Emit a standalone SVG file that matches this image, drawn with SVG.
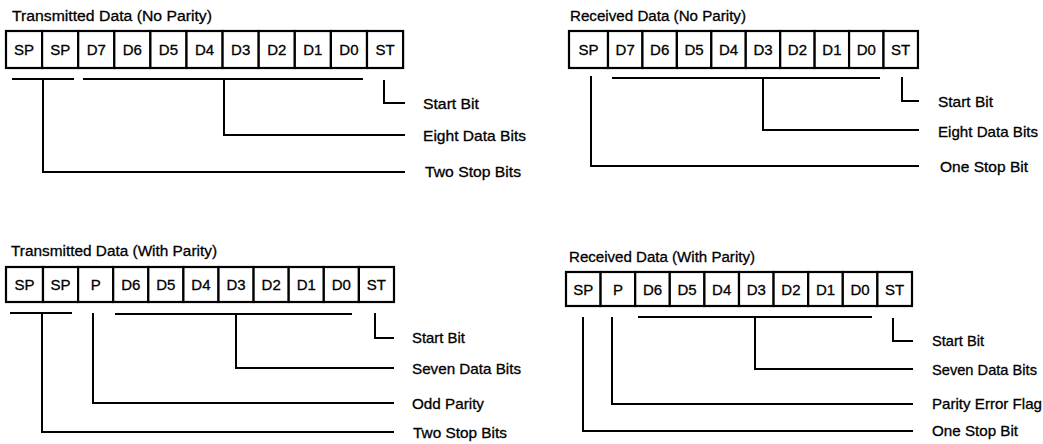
<svg xmlns="http://www.w3.org/2000/svg" width="1043" height="444" viewBox="0 0 1043 444">
<style>
text{font-family:"Liberation Sans",Arial,sans-serif;fill:#000;stroke:#000;stroke-width:0.3}
.t{font-size:15.5px}
.c{font-size:15px;text-anchor:middle}
.l{font-size:15px}
rect{fill:#fff;stroke:#000;stroke-width:2.2}
.w{fill:none;stroke:#000;stroke-width:2}
</style>
<rect x="0" y="0" width="1043" height="444" style="stroke:none"/>

<!-- Top-left: Transmitted Data (No Parity) -->
<g id="tx-noparity">
<text class="t" x="12" y="21" textLength="200" lengthAdjust="spacingAndGlyphs">Transmitted Data (No Parity)</text>
<rect x="6" y="31" width="36.1" height="37"/><text class="c" x="24.05" y="55">SP</text>
<rect x="42.1" y="31" width="36.1" height="37"/><text class="c" x="60.15" y="55">SP</text>
<rect x="78.2" y="31" width="36.1" height="37"/><text class="c" x="96.25" y="55">D7</text>
<rect x="114.3" y="31" width="36.1" height="37"/><text class="c" x="132.35" y="55">D6</text>
<rect x="150.4" y="31" width="36.1" height="37"/><text class="c" x="168.45" y="55">D5</text>
<rect x="186.5" y="31" width="36.1" height="37"/><text class="c" x="204.55" y="55">D4</text>
<rect x="222.6" y="31" width="36.1" height="37"/><text class="c" x="240.65" y="55">D3</text>
<rect x="258.7" y="31" width="36.1" height="37"/><text class="c" x="276.75" y="55">D2</text>
<rect x="294.8" y="31" width="36.1" height="37"/><text class="c" x="312.85" y="55">D1</text>
<rect x="330.9" y="31" width="36.1" height="37"/><text class="c" x="348.95" y="55">D0</text>
<rect x="367" y="31" width="36.1" height="37"/><text class="c" x="385.05" y="55">ST</text>
</g>
<g id="tx-noparity-labels">
<text class="l" x="423" y="109" textLength="56" lengthAdjust="spacingAndGlyphs">Start Bit</text>
<text class="l" x="423" y="141" textLength="103" lengthAdjust="spacingAndGlyphs">Eight Data Bits</text>
<text class="l" x="425" y="177" textLength="96" lengthAdjust="spacingAndGlyphs">Two Stop Bits</text>
</g>

<!-- Top-right: Received Data (No Parity) -->
<g id="rx-noparity">
<text class="t" x="570" y="21" textLength="176" lengthAdjust="spacingAndGlyphs">Received Data (No Parity)</text>
<rect x="569" y="31" width="39" height="37"/><text class="c" x="588.5" y="55">SP</text>
<rect x="608" y="31" width="34.44" height="37"/><text class="c" x="625.2" y="55">D7</text>
<rect x="642.44" y="31" width="34.44" height="37"/><text class="c" x="659.7" y="55">D6</text>
<rect x="676.88" y="31" width="34.44" height="37"/><text class="c" x="694.1" y="55">D5</text>
<rect x="711.32" y="31" width="34.44" height="37"/><text class="c" x="728.5" y="55">D4</text>
<rect x="745.76" y="31" width="34.44" height="37"/><text class="c" x="763" y="55">D3</text>
<rect x="780.2" y="31" width="34.44" height="37"/><text class="c" x="797.4" y="55">D2</text>
<rect x="814.64" y="31" width="34.44" height="37"/><text class="c" x="831.9" y="55">D1</text>
<rect x="849.08" y="31" width="34.44" height="37"/><text class="c" x="866.3" y="55">D0</text>
<rect x="883.52" y="31" width="34.44" height="37"/><text class="c" x="900.7" y="55">ST</text>
</g>
<g id="rx-noparity-labels">
<text class="l" x="938" y="107" textLength="55" lengthAdjust="spacingAndGlyphs">Start Bit</text>
<text class="l" x="938" y="137" textLength="100" lengthAdjust="spacingAndGlyphs">Eight Data Bits</text>
<text class="l" x="940" y="172" textLength="88" lengthAdjust="spacingAndGlyphs">One Stop Bit</text>
</g>

<!-- Bottom-left: Transmitted Data (With Parity) -->
<g id="tx-parity">
<text class="t" x="11" y="256" textLength="206" lengthAdjust="spacingAndGlyphs">Transmitted Data (With Parity)</text>
<rect x="6" y="267" width="37" height="35"/><text class="c" x="24.5" y="290">SP</text>
<rect x="43" y="267" width="35.1" height="35"/><text class="c" x="60.55" y="290">SP</text>
<rect x="78.1" y="267" width="35.1" height="35"/><text class="c" x="95.65" y="290">P</text>
<rect x="113.2" y="267" width="35.1" height="35"/><text class="c" x="130.75" y="290">D6</text>
<rect x="148.3" y="267" width="35.1" height="35"/><text class="c" x="165.85" y="290">D5</text>
<rect x="183.4" y="267" width="35.1" height="35"/><text class="c" x="200.95" y="290">D4</text>
<rect x="218.5" y="267" width="35.1" height="35"/><text class="c" x="236.05" y="290">D3</text>
<rect x="253.6" y="267" width="35.1" height="35"/><text class="c" x="271.15" y="290">D2</text>
<rect x="288.7" y="267" width="35.1" height="35"/><text class="c" x="306.25" y="290">D1</text>
<rect x="323.8" y="267" width="35.1" height="35"/><text class="c" x="341.35" y="290">D0</text>
<rect x="358.9" y="267" width="35.1" height="35"/><text class="c" x="376.45" y="290">ST</text>
</g>
<g id="tx-parity-labels">
<text class="l" x="412" y="343" textLength="53" lengthAdjust="spacingAndGlyphs">Start Bit</text>
<text class="l" x="412" y="374" textLength="109" lengthAdjust="spacingAndGlyphs">Seven Data Bits</text>
<text class="l" x="412" y="409" textLength="72" lengthAdjust="spacingAndGlyphs">Odd Parity</text>
<text class="l" x="413" y="438" textLength="94" lengthAdjust="spacingAndGlyphs">Two Stop Bits</text>
</g>

<!-- Bottom-right: Received Data (With Parity) -->
<g id="rx-parity">
<text class="t" x="569" y="262" textLength="186" lengthAdjust="spacingAndGlyphs">Received Data (With Parity)</text>
<rect x="566" y="272" width="34.6" height="34"/><text class="c" x="583.3" y="294.5">SP</text>
<rect x="600.6" y="272" width="34.6" height="34"/><text class="c" x="617.9" y="294.5">P</text>
<rect x="635.2" y="272" width="34.6" height="34"/><text class="c" x="652.5" y="294.5">D6</text>
<rect x="669.8" y="272" width="34.6" height="34"/><text class="c" x="687.1" y="294.5">D5</text>
<rect x="704.4" y="272" width="34.6" height="34"/><text class="c" x="721.7" y="294.5">D4</text>
<rect x="739" y="272" width="34.6" height="34"/><text class="c" x="756.3" y="294.5">D3</text>
<rect x="773.6" y="272" width="34.6" height="34"/><text class="c" x="790.9" y="294.5">D2</text>
<rect x="808.2" y="272" width="34.6" height="34"/><text class="c" x="825.5" y="294.5">D1</text>
<rect x="842.8" y="272" width="34.6" height="34"/><text class="c" x="860.1" y="294.5">D0</text>
<rect x="877.4" y="272" width="34.6" height="34"/><text class="c" x="894.7" y="294.5">ST</text>
</g>
<g id="rx-parity-labels">
<text class="l" x="932" y="346" textLength="52" lengthAdjust="spacingAndGlyphs">Start Bit</text>
<text class="l" x="932" y="375" textLength="105" lengthAdjust="spacingAndGlyphs">Seven Data Bits</text>
<text class="l" x="932" y="409" textLength="110" lengthAdjust="spacingAndGlyphs">Parity Error Flag</text>
<text class="l" x="932" y="436" textLength="86" lengthAdjust="spacingAndGlyphs">One Stop Bit</text>
</g>

<g id="connectors">
<!-- TL -->
<path class="w" d="M12 79H74"/>
<path class="w" d="M43 79V172H405"/>
<path class="w" d="M83 79H363"/>
<path class="w" d="M224 79V135H405"/>
<path class="w" d="M384 80V103H405"/>
<!-- TR -->
<path class="w" d="M591 76V166H919"/>
<path class="w" d="M612 78H880"/>
<path class="w" d="M763 78V130H919"/>
<path class="w" d="M902 77V101H919"/>
<!-- BL -->
<path class="w" d="M10 313H72"/>
<path class="w" d="M42 313V432H394"/>
<path class="w" d="M93 313V403H394"/>
<path class="w" d="M115 314H352"/>
<path class="w" d="M236 314V368H394"/>
<path class="w" d="M375 313V338H394"/>
<!-- BR -->
<path class="w" d="M583 317V431H913"/>
<path class="w" d="M612 317V404H913"/>
<path class="w" d="M638 317H872"/>
<path class="w" d="M755 317V369H913"/>
<path class="w" d="M893 318V341H913"/>
</g>
</svg>
